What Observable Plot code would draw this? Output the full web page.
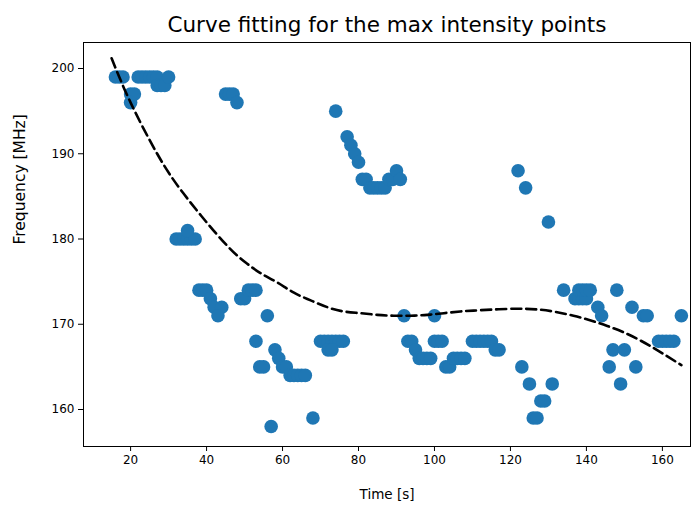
<!DOCTYPE html>
<html>
<head>
<meta charset="utf-8">
<script src="https://cdn.jsdelivr.net/npm/d3@7"></script>
<script src="https://cdn.jsdelivr.net/npm/@observablehq/plot@0.6"></script>
<style>
  html, body { margin: 0; padding: 0; background: #fff; }
  svg { font-family: "DejaVu Sans", sans-serif; }
</style>
</head>
<body>
<div id="chart"></div>
<script>
const title = "Curve fitting for the max intensity points";
const xLabel = "Time [s]";
const yLabel = "Frequency [MHz]";
const xTicks = [20, 40, 60, 80, 100, 120, 140, 160];
const yTicks = [160, 170, 180, 190, 200];

// scatter points (time, frequency)
const times = [16,17,18, 20,21,20, 22,23,24,25,26,27, 27,28,29,30, 45,46,47,48,
  32,33,34,35,36,37,35, 38,39,40,41,42,44,43, 49,50,51,52,53,
  56,53,54,55, 58,59,60,61,62,63,64,65,66, 57,68,
  70,71,72,73,74,75,76,72,73,
  74,77,78,79,80, 81,82,83,84,85,86,87,88,89,90,91,
  92,100, 93,94,95,96,97,98,99, 100,101,102,
  103,104,105,106,107,108, 110,111,112,113,114,115,116,117,
  122,124,130, 123,125,126,127,128,129,131,
  134,137,138,139,140,138,139,140,141,
  143,144,148,152,155,156,165, 159,160,161,162,163,
  147,150,146,153,149];
const freqs = [199,199,199, 197,197,196, 199,199,199,199,199,199, 198,198,198,199, 197,197,197,196,
  180,180,180,180,180,180,181, 174,174,174,173,172,172,171, 173,173,174,174,174,
  171,168,165,165, 167,166,165,165,164,164,164,164,164, 158,159,
  168,168,168,168,168,168,168,167,167,
  195,192,191,190,189, 187,187,186,186,186,186,186,187,187,188,187,
  171,171, 168,168,167,166,166,166,166, 168,168,168,
  165,165,166,166,166,166, 168,168,168,168,168,168,167,167,
  188,186,182, 165,163,159,159,161,161,163,
  174,173,173,173,173,174,174,174,174,
  172,171,174,172,171,171,171, 168,168,168,168,168,
  167,167,165,165,163];

// fitted curve
const fitT = [15, 20, 27, 34, 44.6, 50.7, 54.2, 58.6, 63, 67.4, 71.8, 76.1, 80.5, 84.9, 89.3, 93.7, 98.1, 102.5, 106.8, 110.3, 119.2, 127.9, 136.6, 145.5, 154.2, 165];
const fitF = [201.2, 196.0, 190.0, 185.3, 179.6, 177.1, 176.0, 174.9, 173.7, 172.8, 172.0, 171.5, 171.3, 171.1, 171.0, 171.0, 171.1, 171.3, 171.5, 171.6, 171.8, 171.7, 171.0, 169.8, 168.1, 165.2];

const points = times.map((t, i) => ({t, f: freqs[i]}));
const fit = fitT.map((t, i) => ({t, f: fitF[i]}));

const chart = Plot.plot({
  width: 699,
  height: 510,
  marginLeft: 83,
  marginRight: 9,
  marginTop: 42,
  marginBottom: 64,
  style: {fontFamily: "DejaVu Sans, sans-serif", fontSize: "12px", color: "#000", background: "#fff"},
  x: {domain: [7.6, 167.4]},
  y: {domain: [155.66, 203.05]},
  marks: [
    Plot.dot(points, {x: "t", y: "f", r: 6.8, fill: "#1f77b4", stroke: "none"}),
    Plot.line(fit, {x: "t", y: "f", curve: "natural", stroke: "#000", strokeWidth: 2.6, strokeDasharray: "10,5"}),
    Plot.frame({stroke: "#000", strokeWidth: 1}),
    Plot.axisX({ticks: xTicks, tickSize: 5, tickPadding: 4, fontSize: 12, label: null}),
    Plot.axisY({ticks: yTicks, tickSize: 5, tickPadding: 4, fontSize: 12, label: null}),
    Plot.text([xLabel], {frameAnchor: "bottom", dy: 52, fontSize: 13.5, fill: "#000"}),
    Plot.text([yLabel], {frameAnchor: "left", dx: -63, rotate: -90, fontSize: 15.5, fill: "#000"}),
    Plot.text([title], {frameAnchor: "top", dy: -26, fontSize: 21.5, fill: "#000"})
  ]
});
document.getElementById("chart").appendChild(chart);
</script>
</body>
</html>
